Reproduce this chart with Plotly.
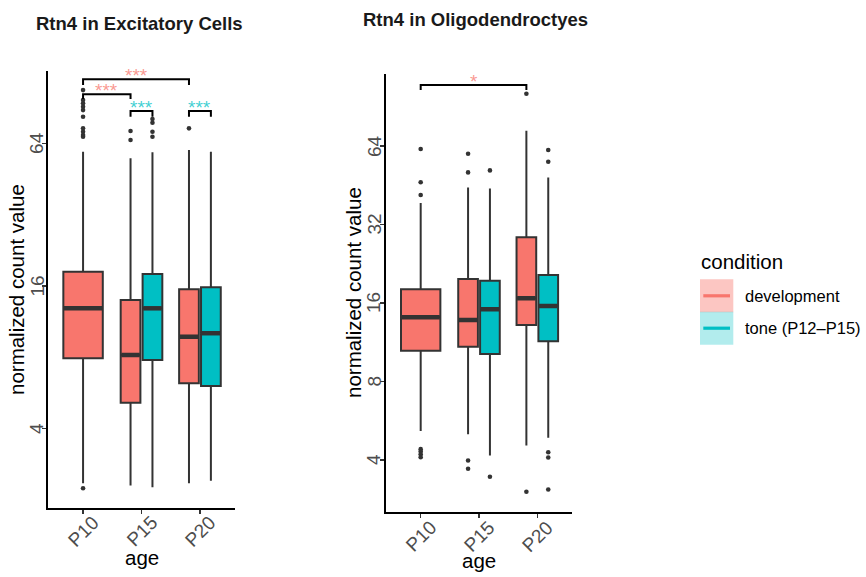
import math
import plotly.graph_objects as go

# ---------------- data ----------------
ages = ["P10", "P15", "P20"]
conditions = ["development", "tone (P12\u2013P15)"]

exc_yticks = [4, 16, 64]
oli_yticks = [4, 8, 16, 32, 64]

# Excitatory cells (None = group absent)
exc_dev_q1 = [7.93, 5.14, 6.21]
exc_dev_med = [12.88, 8.18, 9.77]
exc_dev_q3 = [18.38, 13.97, 15.50]
exc_dev_lo = [2.35, 2.30, 2.35]
exc_dev_hi = [59.0, 55.4, 60.0]
exc_dev_out = [[107.5, 97.6, 94.5, 91.4, 88.5, 83.0, 74.1, 71.7, 69.4, 68.3, 2.24],
               [72.2, 66.2], [74.1]]
exc_tone_q1 = [None, 7.79, 6.05]
exc_tone_med = [None, 12.88, 10.11]
exc_tone_q3 = [None, 17.98, 15.80]
exc_tone_lo = [None, 2.26, 2.41]
exc_tone_hi = [None, 58.7, 59.0]
exc_tone_out = [[], [81.1, 78.3, 71.7, 68.3], []]

# Oligodendrocytes
oli_dev_q1 = [10.50, 10.88, 13.18]
oli_dev_med = [14.10, 13.77, 16.68]
oli_dev_q3 = [18.06, 19.78, 28.58]
oli_dev_lo = [5.17, 5.02, 4.54]
oli_dev_hi = [38.7, 44.4, 73.3]
oli_dev_out = [[62.3, 46.5, 41.5, 4.40, 4.31, 4.21, 4.10],
               [59.8, 50.7, 3.98, 3.70], [101.6, 3.02]]
oli_tone_q1 = [None, 10.20, 11.41]
oli_tone_med = [None, 15.13, 15.58]
oli_tone_q3 = [None, 19.48, 20.49]
oli_tone_lo = [None, 4.16, 4.87]
oli_tone_hi = [None, 44.0, 48.5]
oli_tone_out = [[], [51.6, 3.45], [61.8, 55.7, 4.28, 4.09, 3.08]]

# significance brackets: (age_a, cond_a, age_b, cond_b, top, tip, label, colour-cond)
exc_brackets = [
    (0, 0, 2, 0, 119.4, 112.9, "***", 0),
    (0, 0, 1, 0, 103.2, 98.6, "***", 0),
    (1, 0, 1, 1, 87.7, 83.0, "***", 1),
    (2, 0, 2, 1, 87.7, 83.0, "***", 1),
]
oli_brackets = [
    (0, 0, 2, 0, 109.7, 104.9, "*", 0),
]

# ---------------- style ----------------
W, H = 866, 577
FONT = "Liberation Sans, Arial, Helvetica, sans-serif"
FILL = ["#F8766D", "#00BFC4"]
STAR = ["rgba(248,118,109,0.75)", "rgba(0,191,196,0.75)"]
KEYFILL = ["rgba(248,118,109,0.42)", "rgba(0,191,196,0.30)"]
EDGE = "#333333"
DODGE = 0.1875
W_SINGLE = 0.675
W_DODGE = 0.3375


def px(x):
    return x / W


def py(y):
    return 1 - y / H


def position(i, c, has_tone):
    if not has_tone[i]:
        return i + 1, W_SINGLE
    return i + 1 + (-DODGE if c == 0 else DODGE), W_DODGE


fig = go.Figure()
annotations = []
shapes = []


def panel(xa, ya, dev, tone, brackets):
    has_tone = [q is not None for q in tone[0]]
    for c, stats in enumerate([dev, tone]):
        q1, med, q3, lo, hi, out = stats
        for i in range(len(ages)):
            if q1[i] is None:
                continue
            xpos, w = position(i, c, has_tone)
            fig.add_trace(go.Box(
                x=[xpos], q1=[q1[i]], median=[med[i]], q3=[q3[i]],
                lowerfence=[lo[i]], upperfence=[hi[i]], width=w,
                fillcolor=FILL[c], line=dict(color=EDGE, width=2),
                whiskerwidth=0, boxpoints=False, hoverinfo="skip",
                xaxis=xa, yaxis=ya, showlegend=False))
            fig.add_trace(go.Scatter(
                x=[xpos - w / 2 + 0.01, xpos + w / 2 - 0.01], y=[med[i], med[i]],
                mode="lines", line=dict(color=EDGE, width=4.5),
                xaxis=xa, yaxis=ya, showlegend=False, hoverinfo="skip"))
            if out[i]:
                fig.add_trace(go.Scatter(
                    x=[xpos] * len(out[i]), y=out[i], mode="markers",
                    marker=dict(color=EDGE, size=4.6),
                    xaxis=xa, yaxis=ya, showlegend=False, hoverinfo="skip"))
    for (ia, ca, ib, cb, top, tip, lab, col) in brackets:
        xa_pos, _ = position(ia, ca, has_tone)
        xb_pos, _ = position(ib, cb, has_tone)
        fig.add_trace(go.Scatter(
            x=[xa_pos, xa_pos, xb_pos, xb_pos], y=[tip, top, top, tip],
            mode="lines", line=dict(color="black", width=2),
            xaxis=xa, yaxis=ya, showlegend=False, hoverinfo="skip"))
        annotations.append(dict(
            x=(xa_pos + xb_pos) / 2, y=math.log10(top), xref=xa, yref=ya,
            text=lab, showarrow=False, xanchor="center", yanchor="middle",
            yshift=4, font=dict(family=FONT, size=19, color=STAR[col])))


panel("x", "y",
      (exc_dev_q1, exc_dev_med, exc_dev_q3, exc_dev_lo, exc_dev_hi, exc_dev_out),
      (exc_tone_q1, exc_tone_med, exc_tone_q3, exc_tone_lo, exc_tone_hi, exc_tone_out),
      exc_brackets)
panel("x2", "y2",
      (oli_dev_q1, oli_dev_med, oli_dev_q3, oli_dev_lo, oli_dev_hi, oli_dev_out),
      (oli_tone_q1, oli_tone_med, oli_tone_q3, oli_tone_lo, oli_tone_hi, oli_tone_out),
      oli_brackets)

tick_font = dict(family=FONT, size=19, color="#4D4D4D")
title_font = dict(family=FONT, size=20.5, color="black")
head_font = dict(family=FONT, size=18.5, color="#1a1a1a")

panels = [
    ("x", "y", 36.5, 531, exc_yticks, "<b>Rtn4 in Excitatory Cells</b>", 139.5, 23.5, 16.5, 557, 141.5, 289.5),
    ("x2", "y2", 374, 536, oli_yticks, "<b>Rtn4 in Oligodendroctyes</b>", 475.5, 19.5, 353, 560, 479, 293),
]
for (xr, yr, ytx, xty, yt, ttl, tx, ty, ylx, xly, cx, cy) in panels:
    for v in yt:
        annotations.append(dict(x=px(ytx), xref="paper", y=math.log10(v), yref=yr,
                                text=str(v), showarrow=False, textangle=-90,
                                xanchor="center", yanchor="middle", font=tick_font))
    for i, a in enumerate(ages):
        annotations.append(dict(x=i + 1, xref=xr, y=py(xty), yref="paper",
                                text=a, showarrow=False, textangle=-45,
                                xanchor="center", yanchor="middle", font=tick_font))
    annotations.append(dict(x=px(tx), y=py(ty), xref="paper", yref="paper", text=ttl,
                            showarrow=False, xanchor="center", yanchor="middle", font=head_font))
    annotations.append(dict(x=px(ylx), y=py(cy), xref="paper", yref="paper",
                            text="normalized count value", textangle=-90, showarrow=False,
                            xanchor="center", yanchor="middle", font=title_font))
    annotations.append(dict(x=px(cx), y=py(xly), xref="paper", yref="paper", text="age",
                            showarrow=False, xanchor="center", yanchor="middle", font=title_font))

# legend (ggplot style)
annotations.append(dict(x=px(699), y=py(261), xref="paper", yref="paper", text="condition",
                        showarrow=False, xanchor="left", yanchor="middle", font=title_font))
key_top = [279.3, 311.7]
for c, lab in enumerate(conditions):
    y0 = key_top[c]
    y1 = y0 + 33
    shapes.append(dict(type="rect", xref="paper", yref="paper", x0=px(700), x1=px(733.3),
                       y0=py(y1), y1=py(y0), fillcolor=KEYFILL[c], line=dict(width=0), layer="below"))
    ym = (y0 + y1) / 2
    shapes.append(dict(type="line", xref="paper", yref="paper", x0=px(703.3), x1=px(730),
                       y0=py(ym), y1=py(ym), line=dict(color=FILL[c], width=3.2)))
    annotations.append(dict(x=px(742.5), y=py(ym), xref="paper", yref="paper", text=lab,
                            showarrow=False, xanchor="left", yanchor="middle",
                            font=dict(family=FONT, size=16.5, color="black")))

axis_common = dict(showline=True, linecolor="black", linewidth=2.2, showgrid=False,
                   zeroline=False, ticks="outside", ticklen=4, tickwidth=1.2,
                   tickcolor="#333333", showticklabels=False, fixedrange=True)

fig.update_layout(
    width=W, height=H,
    margin=dict(l=0, r=0, t=0, b=0),
    paper_bgcolor="white", plot_bgcolor="white",
    showlegend=False,
    boxmode="overlay",
    xaxis=dict(domain=[px(48), px(235)], range=[0.4, 3.6], tickvals=[1, 2, 3],
               anchor="y", **axis_common),
    yaxis=dict(domain=[py(508), py(71)], type="log", range=[0.2667, 2.112],
               tickvals=exc_yticks, anchor="x", **axis_common),
    xaxis2=dict(domain=[px(385.7), px(572.3)], range=[0.4, 3.6], tickvals=[1, 2, 3],
                anchor="y2", **axis_common),
    yaxis2=dict(domain=[py(511.7), py(74)], type="log", range=[0.4036, 2.0824],
                tickvals=oli_yticks, anchor="x2", **axis_common),
    annotations=annotations,
    shapes=shapes,
)

fig.write_html(
    "out.html",
    config={"displayModeBar": False, "staticPlot": True},
    post_script="document.body.style.margin='0';document.body.style.overflow='hidden';",
)
